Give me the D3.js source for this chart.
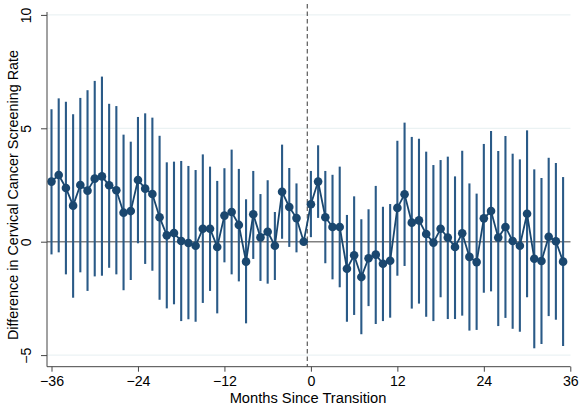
<!DOCTYPE html>
<html>
<head>
<meta charset="utf-8">
<script src="https://cdn.jsdelivr.net/npm/d3@7"></script>
<style>
  body { margin: 0; background: #fff; }
  text { font-family: "Liberation Sans", Arial, sans-serif; fill: #000; }
</style>
</head>
<body>
<div id="chart"></div>
<script>
// months relative to the transition (month -1 is the reference)
var months = [-36, -35, -34, -33, -32, -31, -30, -29, -28, -27, -26, -25,
  -24, -23, -22, -21, -20, -19, -18, -17, -16, -15, -14, -13,
  -12, -11, -10, -9, -8, -7, -6, -5, -4, -3, -2, -1,
  0, 1, 2, 3, 4, 5, 6, 7, 8, 9, 10, 11,
  12, 13, 14, 15, 16, 17, 18, 19, 20, 21, 22, 23,
  24, 25, 26, 27, 28, 29, 30, 31, 32, 33, 34, 35];

// point estimates
var estimate = [2.65, 2.94, 2.37, 1.59, 2.50, 2.25, 2.78, 2.88, 2.49, 2.27, 1.28, 1.35,
  2.72, 2.34, 2.10, 1.08, 0.28, 0.38, 0.03, -0.06, -0.18, 0.57, 0.57, -0.23,
  1.15, 1.31, 0.74, -0.88, 1.21, 0.19, 0.44, -0.18, 2.20, 1.53, 1.04, 0,
  1.65, 2.65, 1.08, 0.65, 0.65, -1.19, -0.60, -1.56, -0.73, -0.57, -0.97, -0.84,
  1.49, 2.09, 0.84, 0.94, 0.34, -0.04, 0.57, 0.18, -0.23, 0.37, -0.67, -0.90,
  1.03, 1.35, 0.18, 0.65, 0.03, -0.18, 1.23, -0.75, -0.85, 0.22, 0.02, -0.88];

// 95% confidence interval bounds
var lower = [-0.56, -0.47, -1.44, -2.47, -1.35, -2.17, -1.53, -1.50, -1.15, -1.44, -2.14, -1.69,
  -0.07, -0.98, -1.28, -2.56, -2.94, -2.76, -3.50, -3.42, -3.53, -2.70, -2.17, -3.16,
  -0.91, -1.44, -1.75, -3.60, -0.76, -1.73, -1.85, -1.69, 0.13, -0.23, -0.47, null,
  0.20, 1.05, -0.95, -1.66, -2.01, -3.53, -3.23, -4.08, -2.84, -3.63, -3.50, -3.35,
  -1.50, -1.07, -2.95, -2.73, -3.31, -3.50, -2.45, -3.41, -3.41, -3.26, -3.92, -3.89,
  -2.25, -2.19, -3.72, -3.36, -3.84, -3.97, -2.45, -4.70, -4.51, -3.28, -3.44, -4.60];

var upper = [5.84, 6.32, 6.17, 5.62, 6.34, 6.68, 7.09, 7.28, 6.08, 5.98, 4.72, 4.41,
  5.50, 5.66, 5.47, 4.67, 3.50, 3.53, 3.56, 3.34, 3.16, 3.85, 3.31, 2.68,
  3.24, 4.06, 3.21, 1.87, 3.12, 2.10, 2.71, 1.31, 4.28, 3.25, 2.57, null,
  3.12, 4.25, 3.12, 2.95, 3.31, 1.18, 2.00, 0.99, 1.43, 2.46, 1.54, 1.66,
  4.45, 5.25, 4.62, 4.54, 3.97, 3.38, 3.60, 3.75, 2.88, 4.01, 2.57, 2.12,
  4.31, 4.88, 4.00, 4.66, 3.88, 3.63, 4.91, 3.19, 2.81, 3.70, 3.47, 2.85];

var xTicks = [-36, -24, -12, 0, 12, 24, 36];
var yTicks = [-5, 0, 5, 10];

var width = 579, height = 409;
var navy = "#1a476f";

var data = months.map((m, i) => ({
  m: m, est: estimate[i], lo: lower[i], hi: upper[i]
}));

var svg = d3.select("#chart").append("svg")
  .attr("width", width)
  .attr("height", height);

var x = d3.scaleLinear().domain([-36, 36]).range([51.5, 570.3]);
var y = d3.scaleLinear().domain([-5, 10]).range([355.1, 14.9]);

var axisX0 = 47, axisY0 = 366.7, rightEdge = 570.5;

// faint grid lines
svg.selectAll("line.grid")
  .data(yTicks.filter(d => d !== 0))
  .enter().append("line")
  .attr("class", "grid")
  .attr("x1", axisX0).attr("x2", rightEdge)
  .attr("y1", d => y(d)).attr("y2", d => y(d))
  .attr("stroke", "#e6eff1")
  .attr("stroke-width", 1);

// reference line at zero
svg.append("line")
  .attr("x1", axisX0).attr("x2", rightEdge)
  .attr("y1", y(0)).attr("y2", y(0))
  .attr("stroke", "#808080")
  .attr("stroke-width", 1.6);

// transition line
svg.append("line")
  .attr("x1", x(-0.5)).attr("x2", x(-0.5))
  .attr("y1", 4).attr("y2", axisY0)
  .attr("stroke", "#5a5a5a")
  .attr("stroke-width", 1.2)
  .attr("stroke-dasharray", "4.5,3");

// confidence intervals
svg.selectAll("line.ci")
  .data(data.filter(d => d.lo !== null))
  .enter().append("line")
  .attr("class", "ci")
  .attr("x1", d => x(d.m)).attr("x2", d => x(d.m))
  .attr("y1", d => y(d.lo)).attr("y2", d => y(d.hi))
  .attr("stroke", "#2a5a87")
  .attr("stroke-width", 2.1);

// connecting line
var line = d3.line().x(d => x(d.m)).y(d => y(d.est));
svg.append("path")
  .datum(data)
  .attr("d", line)
  .attr("fill", "none")
  .attr("stroke", navy)
  .attr("stroke-width", 1.8);

// markers
svg.selectAll("circle")
  .data(data)
  .enter().append("circle")
  .attr("cx", d => x(d.m))
  .attr("cy", d => y(d.est))
  .attr("r", 4.3)
  .attr("fill", navy);

// x axis
var gx = svg.append("g")
  .attr("transform", "translate(0," + axisY0 + ")")
  .call(d3.axisBottom(x).tickValues(xTicks).tickSize(5).tickSizeOuter(0).tickPadding(4));
gx.select(".domain").attr("d", "M" + axisX0 + ",0H" + rightEdge).attr("stroke", "#444");
gx.selectAll(".tick line").attr("stroke", "#444");
gx.selectAll(".tick text").style("font-size", "14.2px").attr("fill", "#000")
  .attr("font-family", "Liberation Sans, Arial, sans-serif");

// y axis
var gy = svg.append("g")
  .attr("transform", "translate(" + axisX0 + ",0)")
  .call(d3.axisLeft(y).tickValues(yTicks).tickSize(6).tickSizeOuter(0));
gy.select(".domain").attr("d", "M0,12V" + axisY0).attr("stroke", "#444");
gy.selectAll(".tick line").attr("stroke", "#444");
gy.selectAll(".tick text")
  .style("font-size", "14.2px")
  .attr("font-family", "Liberation Sans, Arial, sans-serif")
  .attr("fill", "#000")
  .attr("x", null).attr("dy", null)
  .attr("text-anchor", "middle")
  .attr("transform", "translate(-16,0) rotate(-90)");

// titles
svg.append("text")
  .attr("x", 308).attr("y", 402.5)
  .attr("text-anchor", "middle")
  .style("font-size", "14.7px")
  .text("Months Since Transition");

svg.append("text")
  .attr("transform", "translate(17.5,195) rotate(-90)")
  .attr("text-anchor", "middle")
  .style("font-size", "14.4px")
  .text("Difference in Cervical Cancer Screening Rate");
</script>
</body>
</html>
